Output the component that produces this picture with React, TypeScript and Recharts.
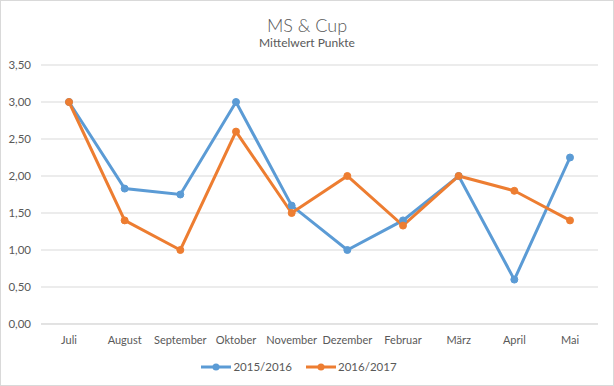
import { LineChart, Line, XAxis, YAxis, CartesianGrid, Legend } from "recharts"

const months = ["Juli", "August", "September", "Oktober", "November", "Dezember", "Februar", "März", "April", "Mai"]
const season1516 = [3.0, 1.83, 1.75, 3.0, 1.6, 1.0, 1.4, 2.0, 0.6, 2.25]
const season1617 = [3.0, 1.4, 1.0, 2.6, 1.5, 2.0, 1.33, 2.0, 1.8, 1.4]
const yTicks = [0, 0.5, 1, 1.5, 2, 2.5, 3, 3.5]

const data = months.map((m, i) => ({ name: m, s1516: season1516[i], s1617: season1617[i] }))

const font = "Lato, 'Open Sans', sans-serif"
const grey = "#595959"
const blue = "#5B9BD5"
const orange = "#ED7D31"

const legendItems = [
  { label: "2015/2016", color: blue },
  { label: "2016/2017", color: orange },
]

function ChartLegend() {
  return (
    <div style={{ display: "flex", justifyContent: "center", gap: 14, paddingTop: 6, fontFamily: font, fontSize: 11.5, color: grey }}>
      {legendItems.map((it) => (
        <div key={it.label} style={{ display: "flex", alignItems: "center" }}>
          <svg width={30} height={10} style={{ marginRight: 2 }}>
            <line x1={0} y1={5} x2={30} y2={5} stroke={it.color} strokeWidth={3} />
            <circle cx={15} cy={5} r={3.5} fill={it.color} />
          </svg>
          <span>{it.label}</span>
        </div>
      ))}
    </div>
  )
}

export default function App() {
  return (
    <div
      style={{
        position: "absolute",
        left: 0,
        top: 0,
        width: 614,
        height: 386,
        boxSizing: "border-box",
        border: "1px solid #d9d9d9",
        background: "#fff",
        fontFamily: font,
      }}
    >
      <div style={{ position: "absolute", top: 14, width: "100%", textAlign: "center", color: grey, fontSize: 18, lineHeight: "20px", fontWeight: 300 }}>
        MS &amp; Cup
      </div>
      <div style={{ position: "absolute", top: 35, width: "100%", textAlign: "center", color: grey, fontSize: 12, lineHeight: "14px" }}>
        Mittelwert Punkte
      </div>
      <div style={{ position: "absolute", left: -1, top: -1 }}>
        <LineChart width={614} height={386} data={data} margin={{ top: 65, right: 16, left: 0, bottom: 8 }}>
          <CartesianGrid vertical={false} stroke="#d9d9d9" strokeWidth={1} />
          <XAxis
            dataKey="name"
            axisLine={{ stroke: "#d9d9d9" }}
            tickLine={false}
            height={30}
            padding={{ left: 28, right: 28 }}
            tick={{ fill: grey, fontSize: 11, fontFamily: font }}
            tickMargin={6}
            interval={0}
          />
          <YAxis
            domain={[0, 3.5]}
            ticks={yTicks}
            width={41}
            axisLine={false}
            tickLine={false}
            tickSize={0}
            tickMargin={10}
            tickFormatter={(v: number) => v.toFixed(2).replace(".", ",")}
            tick={{ fill: grey, fontSize: 11.5, fontFamily: font }}
          />
          <Legend verticalAlign="bottom" height={24} content={() => <ChartLegend />} />
          <Line
            dataKey="s1516"
            stroke={blue}
            strokeWidth={3}
            dot={{ r: 3.5, fill: blue, stroke: blue, strokeWidth: 1 }}
            isAnimationActive={false}
          />
          <Line
            dataKey="s1617"
            stroke={orange}
            strokeWidth={3}
            dot={{ r: 3.5, fill: orange, stroke: orange, strokeWidth: 1 }}
            isAnimationActive={false}
          />
        </LineChart>
      </div>
    </div>
  )
}
